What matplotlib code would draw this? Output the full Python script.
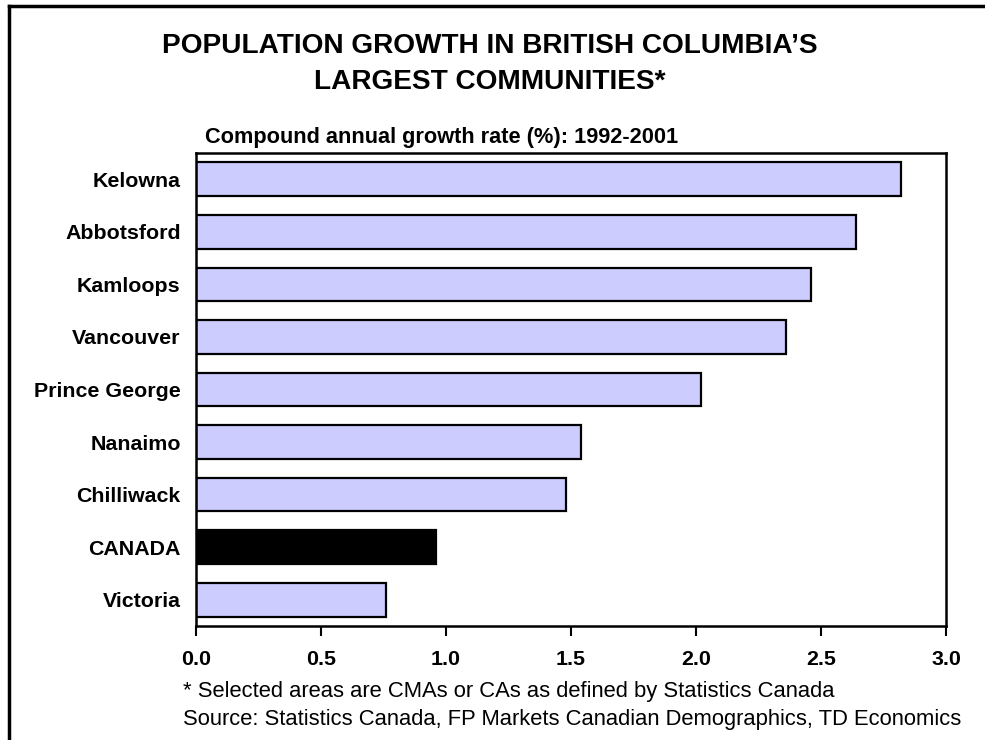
import matplotlib
matplotlib.use('Agg')
import matplotlib.pyplot as plt
from matplotlib.lines import Line2D

plt.rcParams['font.family'] = ['Liberation Sans', 'DejaVu Sans']

places = ['Kelowna', 'Abbotsford', 'Kamloops', 'Vancouver', 'Prince George',
          'Nanaimo', 'Chilliwack', 'CANADA', 'Victoria']
growth = [2.82, 2.64, 2.46, 2.36, 2.02, 1.54, 1.48, 0.96, 0.76]
colors = ['#ccccff'] * 7 + ['#000000', '#ccccff']
xticks = [0.0, 0.5, 1.0, 1.5, 2.0, 2.5, 3.0]

W, H = 985, 740
fig = plt.figure(figsize=(W / 100, H / 100), dpi=100)
ax = fig.add_axes([196 / W, 1 - 626 / H, 750 / W, 473 / H])

pos = list(range(len(places)))
ax.barh(pos, growth, height=0.64, color=colors, edgecolor='black', linewidth=1.6)
ax.set_ylim(len(places) - 0.5, -0.5)
ax.set_xlim(0, 3.0)
ax.set_yticks(pos)
ax.set_yticklabels(places, fontsize=15.4, fontweight='bold')
ax.set_xticks(xticks)
ax.set_xticklabels([f'{t:.1f}' for t in xticks], fontsize=15.4, fontweight='bold')
ax.tick_params(axis='y', length=0, pad=11)
ax.tick_params(axis='x', length=7, width=1.5, direction='out', pad=10)
for s in ax.spines.values():
    s.set_linewidth(1.8)

fig.text(0.497, 1 - 64 / H, 'POPULATION GROWTH IN BRITISH COLUMBIA\u2019S\nLARGEST COMMUNITIES*',
         ha='center', va='center', fontsize=20.2, fontweight='bold', linespacing=1.5)
fig.text(205 / W, 1 - 138 / H, 'Compound annual growth rate (%): 1992-2001',
         ha='left', va='center', fontsize=15.7, fontweight='bold')
fig.text(183 / W, 1 - 692 / H, '* Selected areas are CMAs or CAs as defined by Statistics Canada',
         ha='left', va='center', fontsize=15.8)
fig.text(183 / W, 1 - 720 / H, 'Source: Statistics Canada, FP Markets Canadian Demographics, TD Economics',
         ha='left', va='center', fontsize=15.8)

# outer frame (only left and top edges show)
fig.add_artist(Line2D([9 / W, 9 / W], [0, 1 - 6 / H], color='black', lw=2.5))
fig.add_artist(Line2D([9 / W, 1], [1 - 6 / H, 1 - 6 / H], color='black', lw=2.5))

fig.savefig('out.png', dpi=100)
